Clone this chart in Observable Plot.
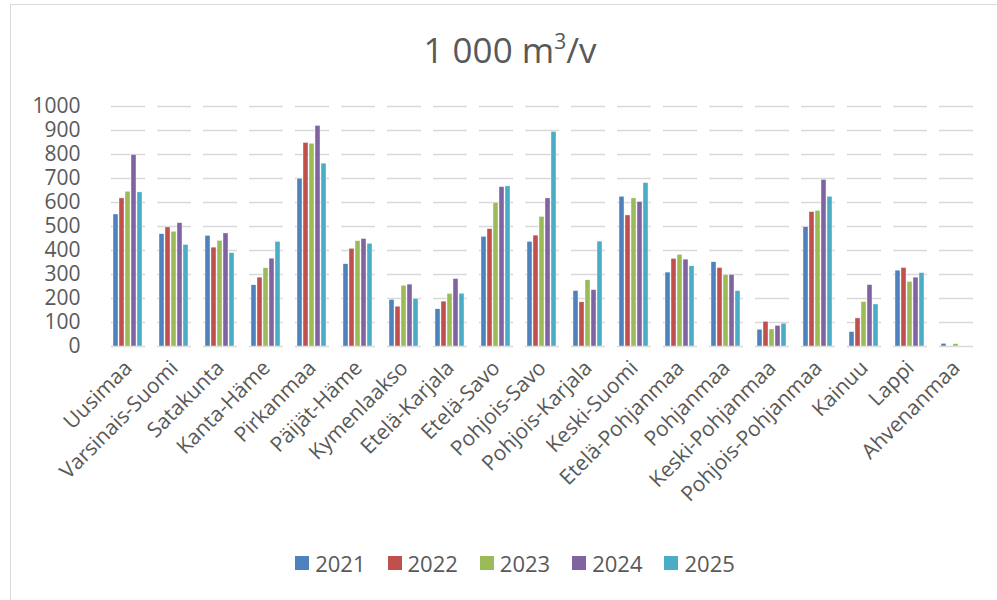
<!DOCTYPE html>
<html>
<head>
<meta charset="utf-8">
<script src="https://cdn.jsdelivr.net/npm/d3@7"></script>
<script src="https://cdn.jsdelivr.net/npm/@observablehq/plot@0.6"></script>
<style>
  html, body { margin: 0; padding: 0; background: #fff; }
  body { width: 997px; height: 600px; overflow: hidden; position: relative; font-family: "Open Sans", sans-serif; }
  #frame { position: absolute; left: 10px; top: 4px; width: 1000px; height: 620px; border-left: 1px solid #d9d9d9; border-top: 1px solid #d9d9d9; }
  #title { position: absolute; left: 0; top: 28px; width: 1020px; text-align: center; font-family: "Open Sans", sans-serif; font-size: 35px; color: #595959; line-height: 44px; }
  #chart { position: absolute; left: 0; top: 0; }
  #legend { position: absolute; left: 0; top: 549px; width: 1030px; display: flex; justify-content: center; gap: 0; font-size: 22px; color: #595959; line-height: 28px; }
  .item { display: flex; align-items: center; margin: 0 11px; }
  .sw { width: 14px; height: 14px; margin-right: 6px; }
</style>
</head>
<body>
<div id="frame"></div>
<div id="title">1 000 m<sup style="font-size:21px;vertical-align:14px;line-height:0">3</sup>/v</div>
<div id="chart"></div>
<div id="legend"></div>
<script>
const regions = ["Uusimaa","Varsinais-Suomi","Satakunta","Kanta-Häme","Pirkanmaa","Päijät-Häme","Kymenlaakso","Etelä-Karjala","Etelä-Savo","Pohjois-Savo","Pohjois-Karjala","Keski-Suomi","Etelä-Pohjanmaa","Pohjanmaa","Keski-Pohjanmaa","Pohjois-Pohjanmaa","Kainuu","Lappi","Ahvenanmaa"];
const years = ["2021","2022","2023","2024","2025"];
const colors = ["#4f81bd","#c0504d","#9bbb59","#8064a2","#4bacc6"];
const v2021 = [550,468,461,255,699,343,194,155,457,436,231,624,308,351,70,497,60,316,11];
const v2022 = [617,496,412,287,848,407,166,187,489,462,184,546,365,327,103,560,117,327,0];
const v2023 = [645,478,440,326,845,439,253,219,598,540,276,617,382,297,71,565,185,269,10];
const v2024 = [798,514,471,366,919,448,258,281,664,617,235,602,362,298,86,694,256,287,0];
const v2025 = [642,423,389,436,762,428,198,220,667,894,437,681,334,231,95,624,175,306,0];
const yTicks = [0,100,200,300,400,500,600,700,800,900,1000];

const series = [v2021, v2022, v2023, v2024, v2025];
const data = [];
regions.forEach((r, i) => years.forEach((y, j) => data.push({region: r, year: y, value: series[j][i]})));

const chart = Plot.plot({
  width: 997,
  height: 530,
  marginTop: 106,
  marginBottom: 184,
  marginLeft: 102,
  marginRight: 15,
  style: {fontFamily: "Open Sans, sans-serif", color: "#595959", background: "transparent"},
  fx: {domain: regions, paddingInner: 0.26, paddingOuter: 0.13, label: null},
  x: {domain: years, paddingInner: 0.12, paddingOuter: 0, axis: null},
  y: {domain: [0, 1000], ticks: yTicks, label: null},
  color: {domain: years, range: colors},
  marks: [
    Plot.gridY(yTicks, {stroke: "#d9d9d9", strokeOpacity: 1, strokeWidth: 1.5}),
    Plot.barY(data, {fx: "region", x: "year", y: "value", fill: "year", stroke: "#ffffff", strokeWidth: 0.4}),
    Plot.axisY(yTicks, {tickSize: 0, tickPadding: 31, fontSize: 21, fill: "#595959", label: null, tickFormat: d => String(d)}),
    Plot.axisFx({tickSize: 0, tickPadding: 18, tickRotate: -45, fontSize: 21, fill: "#595959", label: null, anchor: "bottom"})
  ]
});
document.getElementById("chart").appendChild(chart);

const legend = document.getElementById("legend");
years.forEach((y, j) => {
  const it = document.createElement("div");
  it.className = "item";
  it.innerHTML = `<span class="sw" style="background:${colors[j]}"></span><span>${y}</span>`;
  legend.appendChild(it);
});
</script>
</body>
</html>
